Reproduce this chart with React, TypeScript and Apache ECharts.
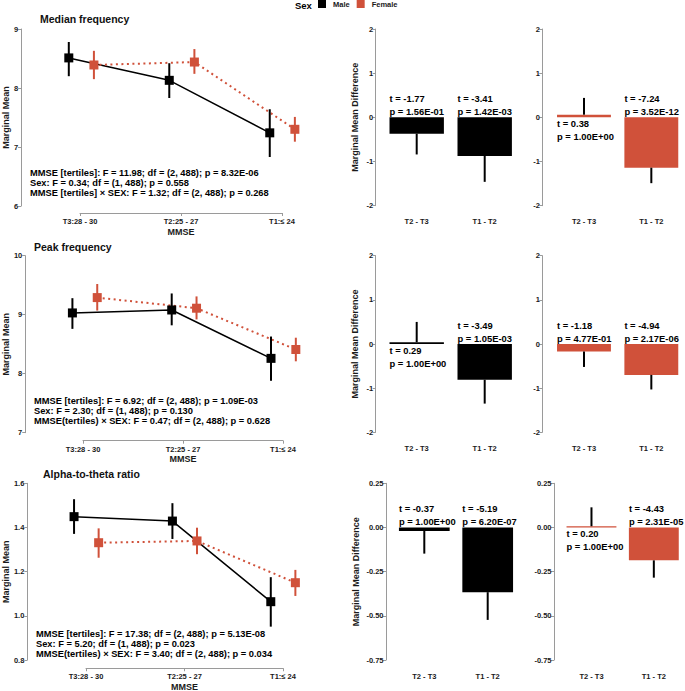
import React, { useEffect, useRef } from 'react';
import * as echarts from 'echarts';

// ---------- categories & labels ----------
const mmseTertiles = ['T3:28 - 30', 'T2:25 - 27', 'T1:≤ 24'];
const contrasts = ['T2 - T3', 'T1 - T2'];
const panelTitles = ['Median frequency', 'Peak frequency', 'Alpha-to-theta ratio'];

// ---------- marginal means (line panels) ----------
const medianMale = [8.51, 8.13, 7.24];
const medianMaleLo = [8.2, 7.83, 6.83];
const medianMaleHi = [8.78, 8.42, 7.64];
const medianFemale = [8.39, 8.44, 7.3];
const medianFemaleLo = [8.15, 8.24, 7.09];
const medianFemaleHi = [8.63, 8.66, 7.51];

const peakMale = [9.03, 9.08, 8.26];
const peakMaleLo = [8.76, 8.82, 7.88];
const peakMaleHi = [9.28, 9.36, 8.63];
const peakFemale = [9.29, 9.11, 8.41];
const peakFemaleLo = [9.07, 8.92, 8.21];
const peakFemaleHi = [9.52, 9.31, 8.61];

const ratioMale = [1.449, 1.429, 1.064];
const ratioMaleLo = [1.371, 1.348, 0.951];
const ratioMaleHi = [1.528, 1.51, 1.175];
const ratioFemale = [1.331, 1.339, 1.15];
const ratioFemaleLo = [1.263, 1.279, 1.09];
const ratioFemaleHi = [1.396, 1.399, 1.208];

// y ranges [min, max, step]
const medianYRange = [6, 9, 1];
const peakYRange = [7, 10, 1];
const ratioYRange = [0.8, 1.6, 0.2];

// ANOVA annotations
const medianStats = [
  'MMSE [tertiles]: F = 11.98; df = (2, 488); p = 8.32E-06',
  'Sex: F = 0.34; df = (1, 488); p = 0.558',
  'MMSE [tertiles] × SEX: F = 1.32; df = (2, 488); p = 0.268',
];
const peakStats = [
  'MMSE [tertiles]: F = 6.92; df = (2, 488); p = 1.09E-03',
  'Sex: F = 2.30; df = (1, 488); p = 0.130',
  'MMSE(tertiles) × SEX: F = 0.47; df = (2, 488); p = 0.628',
];
const ratioStats = [
  'MMSE [tertiles]: F = 17.38; df = (2, 488); p = 5.13E-08',
  'Sex: F = 5.20; df = (1, 488); p = 0.023',
  'MMSE(tertiles) × SEX: F = 3.40; df = (2, 488); p = 0.034',
];

// ---------- marginal mean differences (bar panels) ----------
const medianDiffMale = [-0.37, -0.875];
const medianDiffMaleTip = [-0.84, -1.46];
const medianTMale = ['-1.77', '-3.41'];
const medianPMale = ['1.56E-01', '1.42E-03'];
const medianDiffFemale = [0.06, -1.14];
const medianDiffFemaleTip = [0.44, -1.49];
const medianTFemale = ['0.38', '-7.24'];
const medianPFemale = ['1.00E+00', '3.52E-12'];

const peakDiffMale = [0.04, -0.81];
const peakDiffMaleTip = [0.5, -1.35];
const peakTMale = ['0.29', '-3.49'];
const peakPMale = ['1.00E+00', '1.05E-03'];
const peakDiffFemale = [-0.17, -0.7];
const peakDiffFemaleTip = [-0.52, -1.03];
const peakTFemale = ['-1.18', '-4.94'];
const peakPFemale = ['4.77E-01', '2.17E-06'];

const ratioDiffMale = [-0.02, -0.366];
const ratioDiffMaleTip = [-0.148, -0.523];
const ratioTMale = ['-0.37', '-5.19'];
const ratioPMale = ['1.00E+00', '6.20E-07'];
const ratioDiffFemale = [0.007, -0.186];
const ratioDiffFemaleTip = [0.114, -0.284];
const ratioTFemale = ['0.20', '-4.43'];
const ratioPFemale = ['1.00E+00', '2.31E-05'];

const diffYRangeFreq = [-2, 2, 1];
const diffYRangeRatio = [-0.75, 0.25, 0.25];

// ---------- styling / layout ----------
const FONT = '"Liberation Sans", Arial, Helvetica, sans-serif';
const RED = '#D0513A';
const BLACK = '#000000';
const AXIS = '#9a9a9a';
const TXT = '#1a1a1a';
const DODGE = 0.125;

const lineLayout = [
  { left: 19.4, width: 323.2, top: 29, height: 177, axisY: 213, axisLeft: 80, axisWidth: 202, titleX: 40, titleY: 19, annX: 30, annY: 173, nameGap: 10 },
  { left: 23, width: 320, top: 255.7, height: 177, axisY: 440.7, axisLeft: 83, axisWidth: 200, titleX: 34, titleY: 247, annX: 34, annY: 400.7, nameGap: 13 },
  { left: 26.9, width: 315.2, top: 483.3, height: 176.7, axisY: 669, axisLeft: 86, axisWidth: 197, titleX: 43, titleY: 474, annX: 36, annY: 634, nameGap: 16 },
];
const barLayout = [
  { top: 29, height: 176.7, aLeft: 382.7, bLeft: 550.3, width: 136, aOff: 7, bOff: 8, nameGap: 16, dec: 0 },
  { top: 255.7, height: 176.6, aLeft: 382.7, bLeft: 550.3, width: 136, aOff: 7, bOff: 8, nameGap: 16, dec: 0 },
  { top: 483.3, height: 176.7, aLeft: 392.6, bLeft: 560.3, width: 126.8, aOff: 6.6, bOff: 6.3, nameGap: 26, dec: 2 },
];

const lineRows = [
  { male: medianMale, maleLo: medianMaleLo, maleHi: medianMaleHi, female: medianFemale, femaleLo: medianFemaleLo, femaleHi: medianFemaleHi, range: medianYRange, stats: medianStats, dec: 0 },
  { male: peakMale, maleLo: peakMaleLo, maleHi: peakMaleHi, female: peakFemale, femaleLo: peakFemaleLo, femaleHi: peakFemaleHi, range: peakYRange, stats: peakStats, dec: 0 },
  { male: ratioMale, maleLo: ratioMaleLo, maleHi: ratioMaleHi, female: ratioFemale, femaleLo: ratioFemaleLo, femaleHi: ratioFemaleHi, range: ratioYRange, stats: ratioStats, dec: 1 },
];
const barRows = [
  { range: diffYRangeFreq, male: [medianDiffMale, medianDiffMaleTip, medianTMale, medianPMale], female: [medianDiffFemale, medianDiffFemaleTip, medianTFemale, medianPFemale] },
  { range: diffYRangeFreq, male: [peakDiffMale, peakDiffMaleTip, peakTMale, peakPMale], female: [peakDiffFemale, peakDiffFemaleTip, peakTFemale, peakPFemale] },
  { range: diffYRangeRatio, male: [ratioDiffMale, ratioDiffMaleTip, ratioTMale, ratioPMale], female: [ratioDiffFemale, ratioDiffFemaleTip, ratioTFemale, ratioPFemale] },
];

const tickLabel = { fontSize: 7.5, fontWeight: 'bold', color: TXT, fontFamily: FONT };
const axisNameStyle = { fontSize: 9, fontWeight: 'bold', color: TXT, fontFamily: FONT };

function errorBarSeries(name: string, xi: number, yi: number, data: number[][], color: string) {
  return {
    type: 'custom', name, xAxisIndex: xi, yAxisIndex: yi, silent: true, z: 3,
    encode: { x: 0, y: [1, 2] },
    data,
    renderItem: (params: any, api: any) => {
      const a = api.coord([api.value(0), api.value(1)]);
      const b = api.coord([api.value(0), api.value(2)]);
      return { type: 'line', shape: { x1: a[0], y1: a[1], x2: b[0], y2: b[1] }, style: { stroke: color, lineWidth: 2 } };
    },
  };
}

function barLabelSeries(gi: number, diffs: number[], ts: string[], ps: string[]) {
  return {
    type: 'custom', xAxisIndex: gi, yAxisIndex: gi, silent: true, z: 5,
    data: diffs.map((v, i) => [i, v]),
    renderItem: (params: any, api: any) => {
      const i = params.dataIndex;
      const base = api.coord([i, 0]);
      const bw = api.size([1, 0])[0] * 0.8;
      const x0 = base[0] - bw / 2;
      const neg = diffs[i] < 0;
      const tY = neg ? base[1] - 18.5 : base[1] + 6;
      const pY = neg ? base[1] - 5.5 : base[1] + 19.5;
      const font = `bold 9.4px ${FONT}`;
      return {
        type: 'group',
        children: [
          { type: 'text', x: x0, y: tY, style: { text: 't = ' + ts[i], fill: '#000', font, align: 'left', verticalAlign: 'middle' } },
          { type: 'text', x: x0, y: pY, style: { text: 'p = ' + ps[i], fill: '#000', font, align: 'left', verticalAlign: 'middle' } },
        ],
      };
    },
  };
}

function buildOption() {
  const grid: any[] = [];
  const xAxis: any[] = [];
  const yAxis: any[] = [];
  const series: any[] = [];
  const graphic: any[] = [];

  // line panels: grids 0..2 (data), 3..5 (x axis display)
  lineLayout.forEach((L, r) => {
    const row = lineRows[r];
    grid.push({ left: L.left, top: L.top, width: L.width, height: L.height });
    xAxis.push({ gridIndex: r, type: 'value', min: 0.4, max: 3.6, show: false });
    yAxis.push({
      gridIndex: r, type: 'value', min: row.range[0], max: row.range[1], interval: row.range[2],
      axisLine: { show: true, lineStyle: { color: AXIS, width: 1 } },
      axisTick: { show: true, length: 3, lineStyle: { color: AXIS } },
      splitLine: { show: false },
      axisLabel: { ...tickLabel, margin: 3, formatter: (v: number) => v.toFixed(row.dec) },
      name: 'Marginal Mean', nameLocation: 'middle', nameGap: L.nameGap, nameTextStyle: axisNameStyle,
    });
  });
  lineLayout.forEach((L, r) => {
    grid.push({ left: L.axisLeft, top: L.axisY - 1, width: L.axisWidth, height: 1 });
    xAxis.push({
      gridIndex: 3 + r, type: 'category', data: mmseTertiles, boundaryGap: false,
      axisLine: { show: true, lineStyle: { color: AXIS, width: 1 } },
      axisTick: { show: true, length: 3, lineStyle: { color: AXIS } },
      axisLabel: { ...tickLabel, margin: 4.5, interval: 0 },
      name: 'MMSE', nameLocation: 'middle', nameGap: 14, nameTextStyle: axisNameStyle,
    });
    yAxis.push({ gridIndex: 3 + r, type: 'value', show: false });
  });

  // bar panels: grids 6..11
  barLayout.forEach((B, r) => {
    const row = barRows[r];
    ['a', 'b'].forEach((side, k) => {
      const gi = 6 + r * 2 + k;
      grid.push({ left: side === 'a' ? B.aLeft : B.bLeft, top: B.top, width: B.width, height: B.height });
      xAxis.push({
        gridIndex: gi, type: 'category', data: contrasts,
        axisLine: { show: false }, axisTick: { show: false },
        axisLabel: { ...tickLabel, margin: 12, interval: 0 },
      });
      yAxis.push({
        gridIndex: gi, type: 'value', min: row.range[0], max: row.range[1], interval: row.range[2],
        offset: side === 'a' ? B.aOff : B.bOff,
        axisLine: { show: true, lineStyle: { color: AXIS, width: 1 } },
        axisTick: { show: true, length: 3, lineStyle: { color: AXIS } },
        splitLine: { show: false },
        axisLabel: { ...tickLabel, margin: 2.5, formatter: (v: number) => v.toFixed(B.dec) },
        name: side === 'a' ? 'Marginal Mean Difference' : '',
        nameLocation: 'middle', nameGap: B.nameGap, nameTextStyle: axisNameStyle,
      });
      const d = side === 'a' ? row.male : row.female;
      const color = side === 'a' ? BLACK : RED;
      const diffs = d[0] as number[];
      const tips = d[1] as number[];
      series.push({
        type: 'bar', name: side === 'a' ? 'Male' : 'Female', xAxisIndex: gi, yAxisIndex: gi,
        data: diffs, barWidth: '80%', itemStyle: { color }, z: 2,
      });
      series.push(errorBarSeries(side === 'a' ? 'Male' : 'Female', gi, gi, diffs.map((v, i) => [i, v, tips[i]]), BLACK));
      series.push(barLabelSeries(gi, diffs, d[2] as string[], d[3] as string[]));
    });
  });

  // line series
  lineRows.forEach((row, r) => {
    const mx = (i: number) => i + 1 - DODGE;
    const fx = (i: number) => i + 1 + DODGE;
    series.push({
      type: 'line', name: 'Male', xAxisIndex: r, yAxisIndex: r, showSymbol: false, silent: true, z: 1,
      data: row.male.map((v, i) => [mx(i), v]),
      lineStyle: { color: BLACK, width: 1.5 }, itemStyle: { color: BLACK },
    });
    series.push({
      type: 'line', name: 'Female', xAxisIndex: r, yAxisIndex: r, showSymbol: false, silent: true, z: 1,
      data: row.female.map((v, i) => [fx(i), v]),
      lineStyle: { color: RED, width: 2, type: [2, 3.5] }, itemStyle: { color: RED },
    });
    series.push(errorBarSeries('Male', r, r, row.male.map((v, i) => [mx(i), row.maleLo[i], row.maleHi[i]]), BLACK));
    series.push(errorBarSeries('Female', r, r, row.female.map((v, i) => [fx(i), row.femaleLo[i], row.femaleHi[i]]), RED));
    series.push({
      type: 'scatter', name: 'Male', xAxisIndex: r, yAxisIndex: r, symbol: 'rect', symbolSize: 9, z: 4,
      data: row.male.map((v, i) => [mx(i), v]), itemStyle: { color: BLACK, opacity: 1 },
    });
    series.push({
      type: 'scatter', name: 'Female', xAxisIndex: r, yAxisIndex: r, symbol: 'rect', symbolSize: 9, z: 4,
      data: row.female.map((v, i) => [fx(i), v]), itemStyle: { color: RED, opacity: 1 },
    });
    const L = lineLayout[r];
    graphic.push({
      type: 'text', left: L.annX, top: L.annY - 5, silent: true,
      style: { text: row.stats.join('\n'), fill: '#000', font: `bold 9.3px ${FONT}`, lineHeight: 10 },
    });
  });

  graphic.push({
    type: 'text', left: 295, top: 0, silent: true,
    style: { text: 'Sex', fill: '#000', font: `bold 9.5px ${FONT}` },
  });

  return {
    animation: false,
    backgroundColor: '#ffffff',
    textStyle: { fontFamily: FONT },
    title: panelTitles.map((t, r) => ({
      text: t, left: lineLayout[r].titleX, top: lineLayout[r].titleY - 6, padding: 0,
      textStyle: { fontSize: 10.5, fontWeight: 'bold', color: '#111', fontFamily: FONT },
    })),
    legend: {
      data: ['Male', 'Female'], left: 318, top: 0, padding: 0, icon: 'rect',
      itemWidth: 8, itemHeight: 8, itemGap: 7, selectedMode: false,
      textStyle: { fontSize: 7.5, fontWeight: 'bold', color: TXT, fontFamily: FONT, padding: [0, 0, 0, 2] },
    },
    grid, xAxis, yAxis, series, graphic,
  };
}

export default function App() {
  const ref = useRef<HTMLDivElement>(null);
  useEffect(() => {
    if (!ref.current) return;
    const chart = echarts.init(ref.current, undefined, { renderer: 'svg' });
    chart.setOption(buildOption() as any);
    return () => chart.dispose();
  }, []);
  return <div ref={ref} style={{ position: 'fixed', left: 0, top: 0, width: 685, height: 691, background: '#fff' }} />;
}
